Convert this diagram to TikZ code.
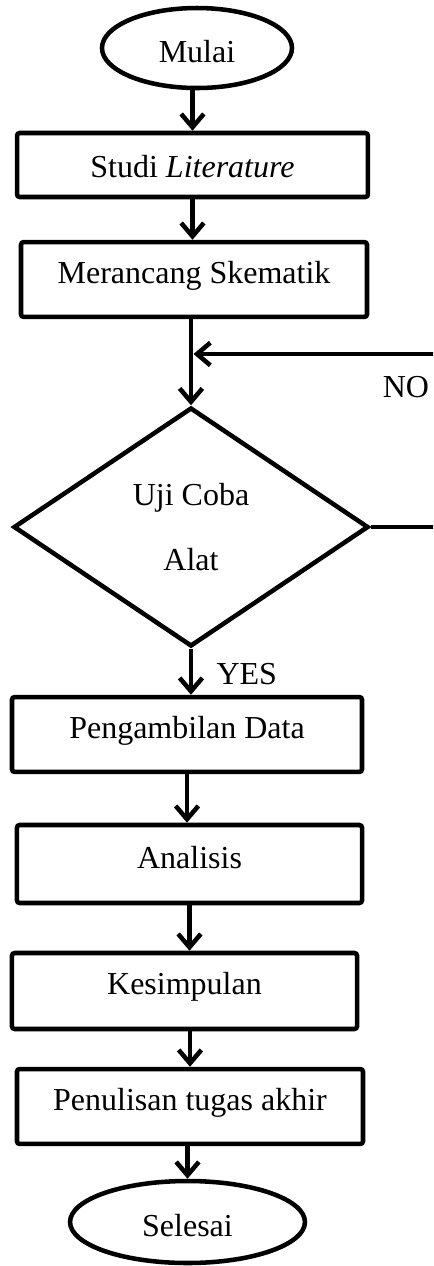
\documentclass[tikz,border=0pt]{standalone}
\usepackage{fontspec}
\setmainfont{Liberation Serif}
\usetikzlibrary{shapes.geometric,arrows.meta}
\newcommand{\boxtext}[2]{\raisebox{\dimexpr#2-3.95pt\relax}[0pt][0pt]{#1}}
\begin{document}
\begin{tikzpicture}[x=0.375pt,y=-0.375pt,
  lw/.style={line width=1.7pt},
  txt/.style={font=\fontsize{12pt}{14pt}\selectfont},
  proc/.style={draw, lw, txt, rectangle, rounded corners=1pt, inner sep=0pt},
  term/.style={draw, lw, txt, ellipse, inner sep=0pt},
  decision/.style={draw, lw, diamond, inner sep=0pt, aspect=1.5, align=center,
    font=\fontsize{12pt}{24.4pt}\selectfont},
  lbl/.style={txt, inner sep=0pt},
  arr/.style={lw, -{Straight Barb[length=5pt,width=8.5pt]}}]
\useasboundingbox (0,0) rectangle (433,1266);
\clip (0,0) rectangle (433,1266);
\node[term, minimum width=71.25pt, minimum height=30pt] (mulai) at (197,48) {\boxtext{Mulai}{-1.5pt}};
\node[proc, minimum width=131.6pt, minimum height=24pt] (studi) at (192.5,165) {\boxtext{Studi \textit{Literature}}{-0.75pt}};
\node[proc, minimum width=129.75pt, minimum height=28.1pt] (meran) at (194,279.5) {\boxtext{Merancang Skematik}{2.4pt}};
\node[decision, minimum width=133.1pt, minimum height=89.6pt] (dia) at (191,527) {Uji Coba\\Alat};
\node[proc, minimum width=131.25pt, minimum height=28.1pt] (peng) at (187,734.5) {\boxtext{Pengambilan Data}{2.6pt}};
\node[proc, minimum width=129.4pt, minimum height=29.25pt] (anal) at (189.5,864) {\boxtext{Analisis}{2.25pt}};
\node[proc, minimum width=129.4pt, minimum height=28.5pt] (kes) at (184.5,991) {\boxtext{Kesimpulan}{2.6pt}};
\node[proc, minimum width=129.75pt, minimum height=28.1pt] (pen) at (190,1106.5) {\boxtext{Penulisan tugas akhir}{2.4pt}};
\node[term, minimum width=88.1pt, minimum height=30.75pt] (sel) at (187.5,1222) {\boxtext{Selesai}{-1.5pt}};
\node[lbl, anchor=west] (yes) at (216,674) {\boxtext{YES}{0pt}};
\node[lbl] (no) at (406,387) {\boxtext{NO}{0pt}};
\coordinate (loopB) at (445,527);
\coordinate (loopT) at (445,354);
\coordinate (join) at (193.5,354);
\draw[arr] (studi.north |- mulai.south) -- (studi.north);
\draw[arr] (studi.south) -- (studi.south |- meran.north);
\draw[arr] (meran.south -| dia.north) -- (dia.north);
\draw[arr] (dia.south) -- (dia.south |- peng.north);
\draw[arr] (peng.south) -- (peng.south |- anal.north);
\draw[arr] (anal.south) -- (anal.south |- kes.north);
\draw[arr] (pen.north |- kes.south) -- (pen.north);
\draw[arr] (pen.south -| sel.north) -- (sel.north);
\draw[arr] (dia.east) -- (loopB) -- (loopT) -- (join);
\end{tikzpicture}
\end{document}
